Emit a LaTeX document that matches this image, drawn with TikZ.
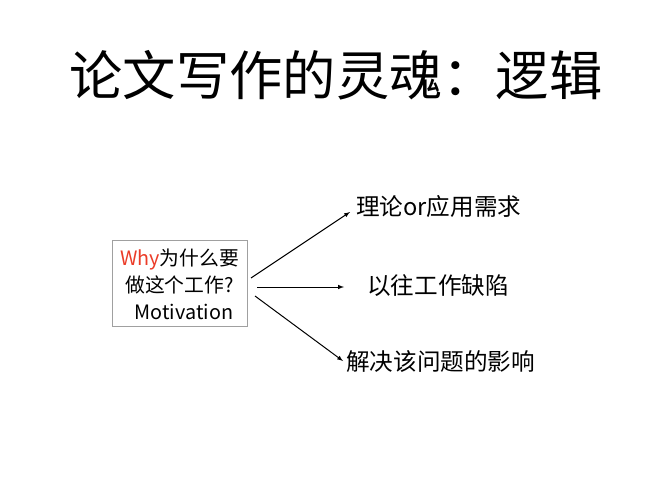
\documentclass[tikz,border=0pt]{standalone}
\usepackage{fontspec}
\setmainfont{Noto Sans CJK SC}
\newfontfamily\cjkfont{Noto Sans CJK SC}
\definecolor{whyred}{RGB}{235,60,40}
\definecolor{boxgray}{RGB}{160,160,160}
\begin{document}
\begin{tikzpicture}[x=1pt,y=-1pt,
  lbl/.style={font=\fontsize{23.6}{26}\selectfont, inner sep=0pt},
  arr/.style={-latex, line width=1pt},
]
\useasboundingbox (0,0) rectangle (668,498);
\node[font=\fontsize{53.3}{60}\selectfont, inner sep=0pt] (title) at (336,75) {论文写作的灵魂：逻辑};
\node[draw=boxgray, line width=1pt, minimum width=135pt, minimum height=86pt, inner sep=0pt] (box) at (179.5,283) {};
\node[font=\fontsize{19.8}{27}\selectfont, align=center, inner sep=0pt] (boxtext) at (179.5,284)
  {\textcolor{whyred}{Why}为什么要\\做这个工作?\\\ \ Motivation};
\coordinate (s1) at (251,278);
\coordinate (s2) at (257,287);
\coordinate (s3) at (255,296);
\node[lbl, anchor=west] (t1) at (356,207) {理论or应用需求};
\node[lbl, anchor=west] (t2) at (367,286) {以往工作缺陷};
\node[lbl, anchor=west] (t3) at (346,362) {解决该问题的影响};
\draw[arr] (s1) -- (350,212);
\draw[arr] (s2) -- (344,287);
\draw[arr] (s3) -- (343,361);
\end{tikzpicture}
\end{document}
